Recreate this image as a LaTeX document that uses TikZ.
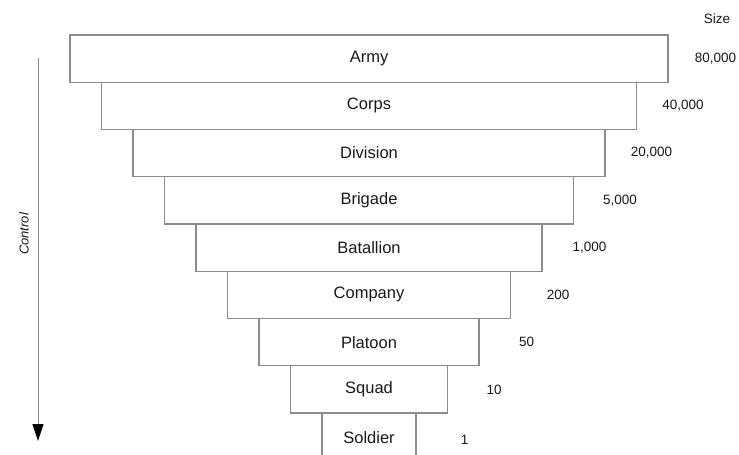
\documentclass[tikz,border=0pt]{standalone}
\usepackage{fontspec}
\setmainfont{Liberation Sans}
\usetikzlibrary{arrows.meta}
\definecolor{linegray}{RGB}{140,140,140}
\definecolor{ink}{RGB}{25,25,25}
\begin{document}
\begin{tikzpicture}[x=1pt,y=-1pt,
  tier/.style={draw=linegray, line width=1.1pt, fill=white, inner sep=0pt,
    minimum height=47.25pt, text=ink, font=\fontsize{16.5}{19}\selectfont},
  count/.style={text=ink, font=\fontsize{13.5}{16}\selectfont},
  axislabel/.style={text=ink, font=\fontsize{13}{15}\selectfont\itshape, rotate=90}]
\clip (0,0) rectangle (739,455);
\fill[white] (0,0) rectangle (739,455);

% command levels, each narrower than the one above
\node[tier, minimum width=598pt] (army)      at (369, 58.6)  {Army};
\node[tier, minimum width=535pt] (corps)     at (369, 105.9) {Corps};
\node[tier, minimum width=472pt] (division)  at (369, 153.1) {Division};
\node[tier, minimum width=409pt] (brigade)   at (369, 200.4) {Brigade};
\node[tier, minimum width=346pt] (batallion) at (369, 247.6) {Batallion};
\node[tier, minimum width=283pt] (company)   at (369, 294.9) {Company};
\node[tier, minimum width=220pt] (platoon)   at (369, 342.1) {Platoon};
\node[tier, minimum width=157pt] (squad)     at (369, 389.4) {Squad};
\node[tier, minimum width=94pt, minimum height=50pt] (soldier) at (369, 438) {Soldier};

% unit sizes
\node[count] (size)       at (717, 19) {Size};
\node[count] (n-army)      at ([xshift=47pt]army.east)      {80,000};
\node[count] (n-corps)     at ([xshift=46pt]corps.east)     {40,000};
\node[count] (n-division)  at ([xshift=46pt]division.east)  {20,000};
\node[count] (n-brigade)   at ([xshift=46pt]brigade.east)   {5,000};
\node[count] (n-batallion) at ([xshift=47pt]batallion.east) {1,000};
\node[count] (n-company)   at ([xshift=47pt]company.east)   {200};
\node[count] (n-platoon)   at ([xshift=47pt]platoon.east)   {50};
\node[count] (n-squad)     at ([xshift=46pt]squad.east)     {10};
\node[count] (n-soldier)   at ([xshift=48pt,yshift=-2pt]soldier.east) {1};

% direction of control
\node[axislabel] (control) at (24, 234) {Control};
\coordinate (ctl-top) at (38, 58);
\coordinate (ctl-end) at (38, 441);
\draw[linegray, line width=1pt,
  -{Triangle[length=17pt, width=11pt, color=black, fill=black]}] (ctl-top) -- (ctl-end);
\end{tikzpicture}
\end{document}
